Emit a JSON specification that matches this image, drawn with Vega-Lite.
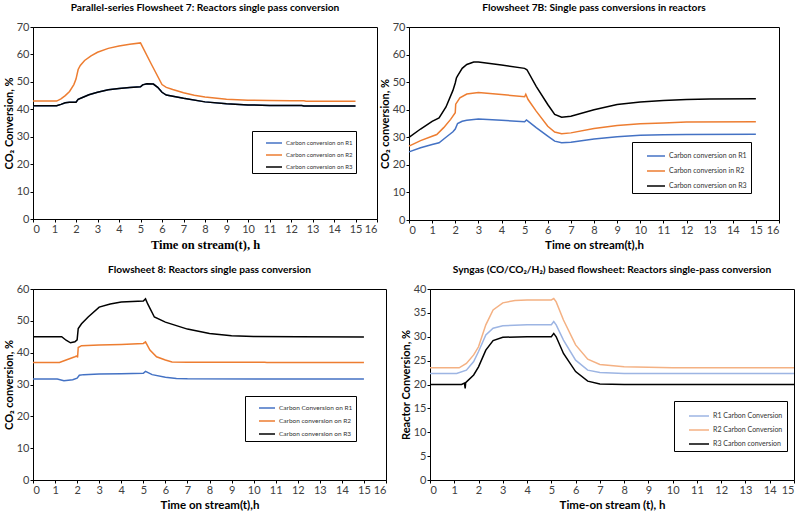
{
  "$schema": "https://vega.github.io/schema/vega-lite/v6.json",
  "background": "white",
  "padding": {"left": 2, "top": 2, "right": 0, "bottom": 0},
  "datasets": {
    "p1": [
      {"t":0,"v":41.3,"s":"Carbon conversion on R1"},{"t":1.1,"v":41.3,"s":"Carbon conversion on R1"},{"t":1.3,"v":41.8,"s":"Carbon conversion on R1"},{"t":1.5,"v":42.4,"s":"Carbon conversion on R1"},{"t":1.7,"v":42.6,"s":"Carbon conversion on R1"},{"t":2.0,"v":42.6,"s":"Carbon conversion on R1"},{"t":2.1,"v":43.6,"s":"Carbon conversion on R1"},{"t":2.3,"v":44.3,"s":"Carbon conversion on R1"},{"t":2.6,"v":45.3,"s":"Carbon conversion on R1"},{"t":3,"v":46.2,"s":"Carbon conversion on R1"},{"t":3.5,"v":47.1,"s":"Carbon conversion on R1"},{"t":4,"v":47.6,"s":"Carbon conversion on R1"},{"t":4.5,"v":47.9,"s":"Carbon conversion on R1"},{"t":5,"v":48.2,"s":"Carbon conversion on R1"},{"t":5.1,"v":48.9,"s":"Carbon conversion on R1"},{"t":5.3,"v":49.3,"s":"Carbon conversion on R1"},{"t":5.6,"v":49.2,"s":"Carbon conversion on R1"},{"t":5.8,"v":48,"s":"Carbon conversion on R1"},{"t":6,"v":46.2,"s":"Carbon conversion on R1"},{"t":6.2,"v":45.2,"s":"Carbon conversion on R1"},{"t":7,"v":44,"s":"Carbon conversion on R1"},{"t":8,"v":42.7,"s":"Carbon conversion on R1"},{"t":9,"v":42,"s":"Carbon conversion on R1"},{"t":10,"v":41.6,"s":"Carbon conversion on R1"},{"t":11,"v":41.4,"s":"Carbon conversion on R1"},{"t":12.5,"v":41.4,"s":"Carbon conversion on R1"},{"t":12.6,"v":41.2,"s":"Carbon conversion on R1"},{"t":15,"v":41.2,"s":"Carbon conversion on R1"},
      {"t":0,"v":43,"s":"Carbon conversion on R2"},{"t":1.1,"v":43,"s":"Carbon conversion on R2"},{"t":1.3,"v":43.8,"s":"Carbon conversion on R2"},{"t":1.5,"v":45,"s":"Carbon conversion on R2"},{"t":1.7,"v":46.5,"s":"Carbon conversion on R2"},{"t":1.9,"v":49,"s":"Carbon conversion on R2"},{"t":2.0,"v":51,"s":"Carbon conversion on R2"},{"t":2.1,"v":54.5,"s":"Carbon conversion on R2"},{"t":2.2,"v":56,"s":"Carbon conversion on R2"},{"t":2.4,"v":57.8,"s":"Carbon conversion on R2"},{"t":2.7,"v":59.5,"s":"Carbon conversion on R2"},{"t":3,"v":60.8,"s":"Carbon conversion on R2"},{"t":3.5,"v":62.2,"s":"Carbon conversion on R2"},{"t":4,"v":63.1,"s":"Carbon conversion on R2"},{"t":4.5,"v":63.7,"s":"Carbon conversion on R2"},{"t":5,"v":64.2,"s":"Carbon conversion on R2"},{"t":5.5,"v":56.5,"s":"Carbon conversion on R2"},{"t":6,"v":49,"s":"Carbon conversion on R2"},{"t":6.2,"v":48,"s":"Carbon conversion on R2"},{"t":6.5,"v":47.2,"s":"Carbon conversion on R2"},{"t":7,"v":46,"s":"Carbon conversion on R2"},{"t":7.5,"v":45.1,"s":"Carbon conversion on R2"},{"t":8,"v":44.5,"s":"Carbon conversion on R2"},{"t":9,"v":43.7,"s":"Carbon conversion on R2"},{"t":10,"v":43.3,"s":"Carbon conversion on R2"},{"t":11,"v":43.2,"s":"Carbon conversion on R2"},{"t":12,"v":43.1,"s":"Carbon conversion on R2"},{"t":12.6,"v":43.1,"s":"Carbon conversion on R2"},{"t":12.7,"v":42.9,"s":"Carbon conversion on R2"},{"t":15,"v":42.9,"s":"Carbon conversion on R2"},
      {"t":0,"v":41.3,"s":"Carbon conversion on R3"},{"t":1.1,"v":41.3,"s":"Carbon conversion on R3"},{"t":1.3,"v":41.8,"s":"Carbon conversion on R3"},{"t":1.5,"v":42.4,"s":"Carbon conversion on R3"},{"t":1.7,"v":42.6,"s":"Carbon conversion on R3"},{"t":2.0,"v":42.6,"s":"Carbon conversion on R3"},{"t":2.1,"v":43.6,"s":"Carbon conversion on R3"},{"t":2.3,"v":44.3,"s":"Carbon conversion on R3"},{"t":2.6,"v":45.3,"s":"Carbon conversion on R3"},{"t":3,"v":46.2,"s":"Carbon conversion on R3"},{"t":3.5,"v":47.1,"s":"Carbon conversion on R3"},{"t":4,"v":47.6,"s":"Carbon conversion on R3"},{"t":4.5,"v":47.9,"s":"Carbon conversion on R3"},{"t":5,"v":48.2,"s":"Carbon conversion on R3"},{"t":5.1,"v":48.9,"s":"Carbon conversion on R3"},{"t":5.3,"v":49.3,"s":"Carbon conversion on R3"},{"t":5.6,"v":49.2,"s":"Carbon conversion on R3"},{"t":5.8,"v":48,"s":"Carbon conversion on R3"},{"t":6,"v":46.2,"s":"Carbon conversion on R3"},{"t":6.2,"v":45.2,"s":"Carbon conversion on R3"},{"t":7,"v":44,"s":"Carbon conversion on R3"},{"t":8,"v":42.7,"s":"Carbon conversion on R3"},{"t":9,"v":42,"s":"Carbon conversion on R3"},{"t":10,"v":41.6,"s":"Carbon conversion on R3"},{"t":11,"v":41.4,"s":"Carbon conversion on R3"},{"t":12.5,"v":41.4,"s":"Carbon conversion on R3"},{"t":12.6,"v":41.2,"s":"Carbon conversion on R3"},{"t":15,"v":41.2,"s":"Carbon conversion on R3"}
    ],
    "p2": [
      {"t":0,"v":24.7,"s":"Carbon conversion on R1"},{"t":0.5,"v":26.2,"s":"Carbon conversion on R1"},{"t":1,"v":27.4,"s":"Carbon conversion on R1"},{"t":1.3,"v":28,"s":"Carbon conversion on R1"},{"t":1.6,"v":30,"s":"Carbon conversion on R1"},{"t":1.9,"v":32,"s":"Carbon conversion on R1"},{"t":2.0,"v":33,"s":"Carbon conversion on R1"},{"t":2.1,"v":35,"s":"Carbon conversion on R1"},{"t":2.3,"v":35.8,"s":"Carbon conversion on R1"},{"t":2.5,"v":36.2,"s":"Carbon conversion on R1"},{"t":3,"v":36.6,"s":"Carbon conversion on R1"},{"t":4,"v":36.2,"s":"Carbon conversion on R1"},{"t":5,"v":35.6,"s":"Carbon conversion on R1"},{"t":5.08,"v":36.3,"s":"Carbon conversion on R1"},{"t":5.2,"v":35.5,"s":"Carbon conversion on R1"},{"t":5.5,"v":33.5,"s":"Carbon conversion on R1"},{"t":6,"v":30.4,"s":"Carbon conversion on R1"},{"t":6.3,"v":28.6,"s":"Carbon conversion on R1"},{"t":6.6,"v":28,"s":"Carbon conversion on R1"},{"t":7,"v":28.2,"s":"Carbon conversion on R1"},{"t":8,"v":29.4,"s":"Carbon conversion on R1"},{"t":9,"v":30.2,"s":"Carbon conversion on R1"},{"t":10,"v":30.7,"s":"Carbon conversion on R1"},{"t":11,"v":30.9,"s":"Carbon conversion on R1"},{"t":12,"v":31,"s":"Carbon conversion on R1"},{"t":15,"v":31.1,"s":"Carbon conversion on R1"},
      {"t":0,"v":26.8,"s":"Carbon conversion in R2"},{"t":0.5,"v":28.8,"s":"Carbon conversion in R2"},{"t":1,"v":30.4,"s":"Carbon conversion in R2"},{"t":1.2,"v":31,"s":"Carbon conversion in R2"},{"t":1.5,"v":33.5,"s":"Carbon conversion in R2"},{"t":1.8,"v":36.5,"s":"Carbon conversion in R2"},{"t":2.0,"v":38.9,"s":"Carbon conversion in R2"},{"t":2.02,"v":42,"s":"Carbon conversion in R2"},{"t":2.1,"v":43,"s":"Carbon conversion in R2"},{"t":2.2,"v":44.3,"s":"Carbon conversion in R2"},{"t":2.5,"v":45.7,"s":"Carbon conversion in R2"},{"t":3,"v":46.2,"s":"Carbon conversion in R2"},{"t":4,"v":45.5,"s":"Carbon conversion in R2"},{"t":5,"v":44.7,"s":"Carbon conversion in R2"},{"t":5.05,"v":45.6,"s":"Carbon conversion in R2"},{"t":5.15,"v":43.7,"s":"Carbon conversion in R2"},{"t":5.5,"v":39.5,"s":"Carbon conversion in R2"},{"t":6,"v":34,"s":"Carbon conversion in R2"},{"t":6.3,"v":31.9,"s":"Carbon conversion in R2"},{"t":6.6,"v":31.3,"s":"Carbon conversion in R2"},{"t":7,"v":31.6,"s":"Carbon conversion in R2"},{"t":8,"v":33.2,"s":"Carbon conversion in R2"},{"t":9,"v":34.3,"s":"Carbon conversion in R2"},{"t":10,"v":34.9,"s":"Carbon conversion in R2"},{"t":11,"v":35.2,"s":"Carbon conversion in R2"},{"t":12,"v":35.5,"s":"Carbon conversion in R2"},{"t":15,"v":35.6,"s":"Carbon conversion in R2"},
      {"t":0,"v":30,"s":"Carbon conversion on R3"},{"t":0.5,"v":33,"s":"Carbon conversion on R3"},{"t":1,"v":35.8,"s":"Carbon conversion on R3"},{"t":1.3,"v":37,"s":"Carbon conversion on R3"},{"t":1.6,"v":41,"s":"Carbon conversion on R3"},{"t":1.9,"v":47,"s":"Carbon conversion on R3"},{"t":2.0,"v":49.7,"s":"Carbon conversion on R3"},{"t":2.05,"v":51.5,"s":"Carbon conversion on R3"},{"t":2.1,"v":52.3,"s":"Carbon conversion on R3"},{"t":2.3,"v":55,"s":"Carbon conversion on R3"},{"t":2.5,"v":56.4,"s":"Carbon conversion on R3"},{"t":2.8,"v":57.3,"s":"Carbon conversion on R3"},{"t":3,"v":57.3,"s":"Carbon conversion on R3"},{"t":4,"v":56.2,"s":"Carbon conversion on R3"},{"t":5,"v":55,"s":"Carbon conversion on R3"},{"t":5.1,"v":54.5,"s":"Carbon conversion on R3"},{"t":5.5,"v":48.5,"s":"Carbon conversion on R3"},{"t":6,"v":41.9,"s":"Carbon conversion on R3"},{"t":6.3,"v":38.3,"s":"Carbon conversion on R3"},{"t":6.6,"v":37.3,"s":"Carbon conversion on R3"},{"t":7,"v":37.6,"s":"Carbon conversion on R3"},{"t":8,"v":40,"s":"Carbon conversion on R3"},{"t":9,"v":41.9,"s":"Carbon conversion on R3"},{"t":10,"v":42.8,"s":"Carbon conversion on R3"},{"t":11,"v":43.3,"s":"Carbon conversion on R3"},{"t":12,"v":43.7,"s":"Carbon conversion on R3"},{"t":13,"v":43.9,"s":"Carbon conversion on R3"},{"t":15,"v":44,"s":"Carbon conversion on R3"}
    ],
    "p3": [
      {"t":0,"v":31.7,"s":"Carbon Conversion on R1"},{"t":1.1,"v":31.7,"s":"Carbon Conversion on R1"},{"t":1.4,"v":31.2,"s":"Carbon Conversion on R1"},{"t":1.8,"v":31.5,"s":"Carbon Conversion on R1"},{"t":2.0,"v":32,"s":"Carbon Conversion on R1"},{"t":2.1,"v":32.9,"s":"Carbon Conversion on R1"},{"t":2.3,"v":33.1,"s":"Carbon Conversion on R1"},{"t":3,"v":33.3,"s":"Carbon Conversion on R1"},{"t":4,"v":33.4,"s":"Carbon Conversion on R1"},{"t":5,"v":33.5,"s":"Carbon Conversion on R1"},{"t":5.1,"v":34.1,"s":"Carbon Conversion on R1"},{"t":5.4,"v":33.1,"s":"Carbon Conversion on R1"},{"t":6,"v":32.3,"s":"Carbon Conversion on R1"},{"t":6.5,"v":31.9,"s":"Carbon Conversion on R1"},{"t":7,"v":31.8,"s":"Carbon Conversion on R1"},{"t":15,"v":31.7,"s":"Carbon Conversion on R1"},
      {"t":0,"v":36.9,"s":"Carbon conversion on R2"},{"t":1.2,"v":36.9,"s":"Carbon conversion on R2"},{"t":1.5,"v":37.7,"s":"Carbon conversion on R2"},{"t":1.9,"v":38.7,"s":"Carbon conversion on R2"},{"t":2.0,"v":39,"s":"Carbon conversion on R2"},{"t":2.02,"v":38.5,"s":"Carbon conversion on R2"},{"t":2.05,"v":41.6,"s":"Carbon conversion on R2"},{"t":2.2,"v":42.2,"s":"Carbon conversion on R2"},{"t":3,"v":42.4,"s":"Carbon conversion on R2"},{"t":4,"v":42.6,"s":"Carbon conversion on R2"},{"t":5,"v":42.9,"s":"Carbon conversion on R2"},{"t":5.1,"v":43.4,"s":"Carbon conversion on R2"},{"t":5.3,"v":40.8,"s":"Carbon conversion on R2"},{"t":5.6,"v":38.7,"s":"Carbon conversion on R2"},{"t":6,"v":37.7,"s":"Carbon conversion on R2"},{"t":6.3,"v":37.1,"s":"Carbon conversion on R2"},{"t":7,"v":37,"s":"Carbon conversion on R2"},{"t":10.5,"v":37,"s":"Carbon conversion on R2"},{"t":10.6,"v":36.9,"s":"Carbon conversion on R2"},{"t":15,"v":36.9,"s":"Carbon conversion on R2"},
      {"t":0,"v":45,"s":"Carbon conversion on R3"},{"t":1.3,"v":45,"s":"Carbon conversion on R3"},{"t":1.5,"v":43.9,"s":"Carbon conversion on R3"},{"t":1.7,"v":43.1,"s":"Carbon conversion on R3"},{"t":1.9,"v":43.4,"s":"Carbon conversion on R3"},{"t":2.0,"v":44,"s":"Carbon conversion on R3"},{"t":2.05,"v":47.6,"s":"Carbon conversion on R3"},{"t":2.2,"v":49.1,"s":"Carbon conversion on R3"},{"t":2.5,"v":51.2,"s":"Carbon conversion on R3"},{"t":3,"v":54.3,"s":"Carbon conversion on R3"},{"t":3.5,"v":55.3,"s":"Carbon conversion on R3"},{"t":4,"v":55.9,"s":"Carbon conversion on R3"},{"t":4.5,"v":56.1,"s":"Carbon conversion on R3"},{"t":5,"v":56.2,"s":"Carbon conversion on R3"},{"t":5.1,"v":56.9,"s":"Carbon conversion on R3"},{"t":5.2,"v":55.3,"s":"Carbon conversion on R3"},{"t":5.5,"v":51.2,"s":"Carbon conversion on R3"},{"t":6,"v":49.6,"s":"Carbon conversion on R3"},{"t":7,"v":47.4,"s":"Carbon conversion on R3"},{"t":8,"v":46,"s":"Carbon conversion on R3"},{"t":9,"v":45.3,"s":"Carbon conversion on R3"},{"t":10,"v":45.1,"s":"Carbon conversion on R3"},{"t":12,"v":45,"s":"Carbon conversion on R3"},{"t":15,"v":44.9,"s":"Carbon conversion on R3"}
    ],
    "p4": [
      {"t":0,"v":22.3,"s":"R1 Carbon Conversion"},{"t":1.1,"v":22.3,"s":"R1 Carbon Conversion"},{"t":1.5,"v":23,"s":"R1 Carbon Conversion"},{"t":1.8,"v":24.8,"s":"R1 Carbon Conversion"},{"t":2.0,"v":26.9,"s":"R1 Carbon Conversion"},{"t":2.3,"v":30.4,"s":"R1 Carbon Conversion"},{"t":2.6,"v":31.8,"s":"R1 Carbon Conversion"},{"t":3,"v":32.3,"s":"R1 Carbon Conversion"},{"t":4,"v":32.5,"s":"R1 Carbon Conversion"},{"t":5,"v":32.5,"s":"R1 Carbon Conversion"},{"t":5.1,"v":33.2,"s":"R1 Carbon Conversion"},{"t":5.2,"v":32.5,"s":"R1 Carbon Conversion"},{"t":5.5,"v":29.3,"s":"R1 Carbon Conversion"},{"t":6,"v":25.1,"s":"R1 Carbon Conversion"},{"t":6.5,"v":23,"s":"R1 Carbon Conversion"},{"t":7,"v":22.5,"s":"R1 Carbon Conversion"},{"t":8,"v":22.3,"s":"R1 Carbon Conversion"},{"t":15,"v":22.3,"s":"R1 Carbon Conversion"},
      {"t":0,"v":23.5,"s":"R2 Carbon Conversion"},{"t":1.2,"v":23.5,"s":"R2 Carbon Conversion"},{"t":1.5,"v":24.4,"s":"R2 Carbon Conversion"},{"t":1.8,"v":26.2,"s":"R2 Carbon Conversion"},{"t":2.0,"v":27.9,"s":"R2 Carbon Conversion"},{"t":2.3,"v":32.5,"s":"R2 Carbon Conversion"},{"t":2.6,"v":35.6,"s":"R2 Carbon Conversion"},{"t":3,"v":37.1,"s":"R2 Carbon Conversion"},{"t":3.5,"v":37.6,"s":"R2 Carbon Conversion"},{"t":4,"v":37.7,"s":"R2 Carbon Conversion"},{"t":5,"v":37.7,"s":"R2 Carbon Conversion"},{"t":5.1,"v":38,"s":"R2 Carbon Conversion"},{"t":5.2,"v":37.3,"s":"R2 Carbon Conversion"},{"t":5.5,"v":33.5,"s":"R2 Carbon Conversion"},{"t":6,"v":28.3,"s":"R2 Carbon Conversion"},{"t":6.5,"v":25.3,"s":"R2 Carbon Conversion"},{"t":7,"v":24.2,"s":"R2 Carbon Conversion"},{"t":8,"v":23.7,"s":"R2 Carbon Conversion"},{"t":10,"v":23.5,"s":"R2 Carbon Conversion"},{"t":15,"v":23.5,"s":"R2 Carbon Conversion"},
      {"t":0,"v":20,"s":"R3 Carbon conversion"},{"t":1.3,"v":20,"s":"R3 Carbon conversion"},{"t":1.42,"v":20.3,"s":"R3 Carbon conversion"},{"t":1.45,"v":19.2,"s":"R3 Carbon conversion"},{"t":1.47,"v":20.4,"s":"R3 Carbon conversion"},{"t":1.8,"v":22,"s":"R3 Carbon conversion"},{"t":2.0,"v":23.7,"s":"R3 Carbon conversion"},{"t":2.3,"v":27.2,"s":"R3 Carbon conversion"},{"t":2.6,"v":29.2,"s":"R3 Carbon conversion"},{"t":3,"v":29.9,"s":"R3 Carbon conversion"},{"t":4,"v":30,"s":"R3 Carbon conversion"},{"t":5,"v":30,"s":"R3 Carbon conversion"},{"t":5.1,"v":30.7,"s":"R3 Carbon conversion"},{"t":5.2,"v":30,"s":"R3 Carbon conversion"},{"t":5.5,"v":26.5,"s":"R3 Carbon conversion"},{"t":6,"v":22.7,"s":"R3 Carbon conversion"},{"t":6.5,"v":20.7,"s":"R3 Carbon conversion"},{"t":7,"v":20.1,"s":"R3 Carbon conversion"},{"t":8,"v":20,"s":"R3 Carbon conversion"},{"t":15,"v":20,"s":"R3 Carbon conversion"}
    ]
  },
  "vconcat": [
    {
      "hconcat": [
        {
          "title": "Parallel-series Flowsheet 7: Reactors single pass conversion",
          "width": 344, "height": 192,
          "data": {"name": "p1"},
          "mark": {"type": "line", "strokeWidth": 1.5},
          "encoding": {
            "x": {"field": "t", "type": "quantitative", "scale": {"domain": [0, 16], "nice": false}, "axis": {"values": [0,1,2,3,4,5,6,7,8,9,10,11,12,13,14,15,16], "title": "Time on stream(t), h", "titleFont": "Liberation Serif", "titleFontSize": 12.5}},
            "y": {"field": "v", "type": "quantitative", "scale": {"domain": [0, 70], "nice": false}, "axis": {"values": [0,10,20,30,40,50,60,70], "title": "CO₂ Conversion, %"}},
            "color": {"field": "s", "type": "nominal", "scale": {"domain": ["Carbon conversion on R1","Carbon conversion on R2","Carbon conversion on R3"], "range": ["#4472C4","#ED7D31","#000000"]}, "legend": {"orient": "none", "legendX": 219, "legendY": 104, "labelFontSize": 6}}
          }
        },
        {
          "title": "Flowsheet 7B: Single pass conversions in reactors",
          "width": 370, "height": 193,
          "data": {"name": "p2"},
          "mark": {"type": "line", "strokeWidth": 1.5},
          "encoding": {
            "x": {"field": "t", "type": "quantitative", "scale": {"domain": [0, 16], "nice": false}, "axis": {"values": [0,1,2,3,4,5,6,7,8,9,10,11,12,13,14,15,16], "title": "Time on stream(t),h"}},
            "y": {"field": "v", "type": "quantitative", "scale": {"domain": [0, 70], "nice": false}, "axis": {"values": [0,10,20,30,40,50,60,70], "title": "CO₂ conversion, %"}},
            "color": {"field": "s", "type": "nominal", "scale": {"domain": ["Carbon conversion on R1","Carbon conversion in R2","Carbon conversion on R3"], "range": ["#4472C4","#ED7D31","#000000"]}, "legend": {"orient": "none", "legendX": 223, "legendY": 115, "labelFontSize": 7, "symbolSize": 324, "rowPadding": 2, "padding": 4}}
          }
        }
      ],
      "spacing": 0,
      "resolve": {"scale": {"color": "independent"}, "legend": {"color": "independent"}}
    },
    {
      "hconcat": [
        {
          "title": "Flowsheet 8: Reactors single pass conversion",
          "width": 353, "height": 191,
          "data": {"name": "p3"},
          "mark": {"type": "line", "strokeWidth": 1.5},
          "encoding": {
            "x": {"field": "t", "type": "quantitative", "scale": {"domain": [0, 16], "nice": false}, "axis": {"values": [0,1,2,3,4,5,6,7,8,9,10,11,12,13,14,15,16], "title": "Time on stream(t),h"}},
            "y": {"field": "v", "type": "quantitative", "scale": {"domain": [0, 60], "nice": false}, "axis": {"values": [0,10,20,30,40,50,60], "title": "CO₂ conversion, %"}},
            "color": {"field": "s", "type": "nominal", "scale": {"domain": ["Carbon Conversion on R1","Carbon conversion on R2","Carbon conversion on R3"], "range": ["#4472C4","#ED7D31","#000000"]}, "legend": {"orient": "none", "legendX": 212, "legendY": 107, "labelFontSize": 6.5}}
          }
        },
        {
          "title": "Syngas (CO/CO₂/H₂) based flowsheet: Reactors single-pass conversion",
          "width": 364, "height": 191,
          "data": {"name": "p4"},
          "mark": {"type": "line", "strokeWidth": 1.5},
          "encoding": {
            "x": {"field": "t", "type": "quantitative", "scale": {"domain": [0, 15], "nice": false}, "axis": {"values": [0,1,2,3,4,5,6,7,8,9,10,11,12,13,14,15], "title": "Time-on stream (t), h"}},
            "y": {"field": "v", "type": "quantitative", "scale": {"domain": [0, 40], "nice": false}, "axis": {"values": [0,5,10,15,20,25,30,35,40], "title": "Reactor Conversion, %"}},
            "color": {"field": "s", "type": "nominal", "scale": {"domain": ["R1 Carbon Conversion","R2 Carbon Conversion","R3 Carbon conversion"], "range": ["#9DB5E3","#F4B183","#000000"]}, "legend": {"orient": "none", "legendX": 244, "legendY": 112, "labelFontSize": 7, "symbolSize": 400, "rowPadding": -2, "padding": 4}}
          }
        }
      ],
      "spacing": 12,
      "resolve": {"scale": {"color": "independent"}, "legend": {"color": "independent"}}
    }
  ],
  "spacing": 13,
  "resolve": {"scale": {"color": "independent"}, "legend": {"color": "independent"}},
  "config": {
    "view": {"stroke": "#000", "strokeWidth": 1},
    "axis": {"grid": false, "domainColor": "#000", "tickColor": "#000", "tickSize": 3, "labelFont": "Lato", "labelFontSize": 11, "labelColor": "#404040", "titleFont": "Lato", "titleFontSize": 11.5, "titleFontWeight": "bold", "titleColor": "#000", "labelPadding": 1, "titlePadding": 4},
    "axisY": {"titleFontSize": 11, "titlePadding": 2},
    "title": {"font": "Lato", "fontSize": 10.2, "fontWeight": "bold", "color": "#000", "offset": 8},
    "legend": {"title": null, "symbolType": "stroke", "symbolSize": 256, "symbolStrokeWidth": 1.5, "labelFont": "Lato", "labelColor": "#333", "strokeColor": "#000", "fillColor": "#fff", "padding": 3, "rowPadding": 0, "symbolOffset": 10, "labelOffset": 3}
  }
}
